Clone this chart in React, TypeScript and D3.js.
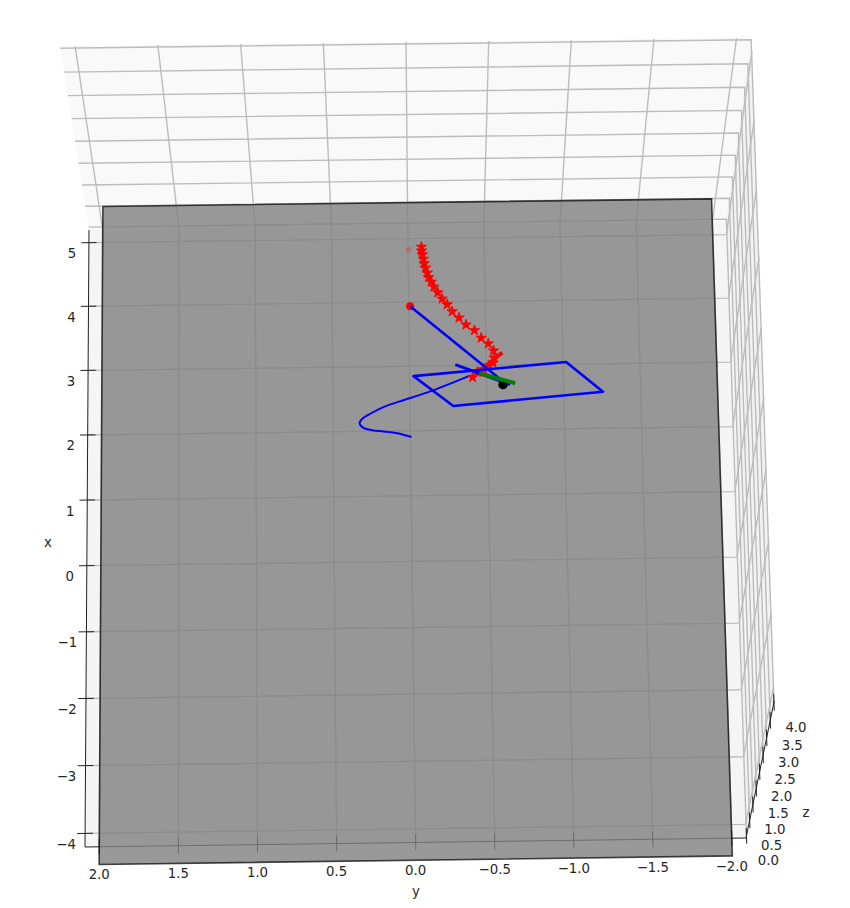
import React, { useEffect, useRef } from "react";
import * as d3 from "d3";

// axis limits and ticks
const xLimits = [-4.2, 5.2];
const yLimits = [-2.09, 2.09];
const zLimits = [-0.07, 4.04];
const xTicks = [-4, -3, -2, -1, 0, 1, 2, 3, 4, 5];
const yTicks = [2, 1.5, 1, 0.5, 0, -0.5, -1, -1.5, -2];
const zTicks = [0, 0.5, 1, 1.5, 2, 2.5, 3, 3.5, 4];

// grey plate lying on the floor
const plateX = [-4.46, 5.57];
const plateY = [-2, 2];

// series as [x, y], all drawn at one height
const seriesZ = -0.045;
const starPath = [
  [4.85, -0.088], [4.79, -0.089], [4.73, -0.094], [4.66, -0.1], [4.59, -0.105],
  [4.52, -0.113], [4.44, -0.124], [4.37, -0.133], [4.3, -0.149], [4.22, -0.166],
  [4.13, -0.191], [4.03, -0.219], [3.94, -0.251], [3.83, -0.283], [3.73, -0.327],
  [3.62, -0.372], [3.53, -0.426], [3.41, -0.469], [3.32, -0.515], [3.21, -0.548],
  [3.1, -0.552], [3.02, -0.543], [2.98, -0.519], [2.92, -0.481], [2.88, -0.44],
  [2.8, -0.409],
];
const square = [
  [2.83, -0.025], [3.02, -1.019], [2.55, -1.254], [2.36, -0.281],
];
const trajectory = [
  [1.89, -0.007], [1.95, 0.085], [1.98, 0.171], [2.0, 0.246], [2.04, 0.303],
  [2.11, 0.328], [2.18, 0.31], [2.26, 0.255], [2.36, 0.169], [2.445, 0.06],
  [2.61, -0.156], [2.83, -0.396],
];
const longArm = [[3.92, -0.009], [2.73, -0.607]];
const shortArm = [[3.0, -0.298], [2.68, -0.651]];
const greenArm = [[2.86, -0.452], [2.7, -0.685]];
const redArm = [[3.18, -0.605], [2.91, -0.46]];
const startPoint = [3.92, -0.009];
const ghostPoint = [4.81, -0.004];
const blackPoint = [2.68, -0.606];

// where the box lands on screen (floor corners, z vanishing point)
const floorNearLeft = [85, 847];
const floorNearRight = [746, 838];
const floorFarRight = [726, 222];
const floorFarLeft = [89, 230];
const vanish = [427, 2387];
const zShrinkAtTop = -0.0785;

function makeProjection() {
  const s = d3.scaleLinear().domain([yLimits[1], yLimits[0]]).range([0, 1]);
  const t = d3.scaleLinear().domain(xLimits).range([0, 1]);
  const [x0, y0] = floorNearLeft;
  const [x1, y1] = floorNearRight;
  const [x2, y2] = floorFarRight;
  const [x3, y3] = floorFarLeft;
  const dx1 = x1 - x2;
  const dx2 = x3 - x2;
  const sx = x0 - x1 + x2 - x3;
  const dy1 = y1 - y2;
  const dy2 = y3 - y2;
  const sy = y0 - y1 + y2 - y3;
  const det = dx1 * dy2 - dx2 * dy1;
  const g = (sx * dy2 - dx2 * sy) / det;
  const h = (dx1 * sy - sx * dy1) / det;
  const a = x1 - x0 + g * x1;
  const b = x3 - x0 + h * x3;
  const d = y1 - y0 + g * y1;
  const e = y3 - y0 + h * y3;
  const lambda = (zShrinkAtTop * (h + 1)) / (zLimits[1] - zLimits[0]);

  return (x: number, y: number, z = zLimits[0]): [number, number] => {
    const ss = s(y);
    const tt = t(x);
    const dz = (z - zLimits[0]) * lambda;
    const w = g * ss + h * tt + 1 + dz;
    return [
      (a * ss + b * tt + x0 + dz * vanish[0]) / w,
      (d * ss + e * tt + y0 + dz * vanish[1]) / w,
    ];
  };
}

function App() {
  const svgRef = useRef<SVGSVGElement>(null);

  useEffect(() => {
    const svg = d3.select(svgRef.current);
    svg.selectAll("*").remove();

    const project = makeProjection();
    const path = d3.line();
    const closed = d3.line().curve(d3.curveLinearClosed);
    const smooth = d3.line().curve(d3.curveCatmullRom.alpha(0.5));
    const seriesPts = (pts: number[][]) => pts.map((p) => project(p[0], p[1], seriesZ));

    const [xMin, xMax] = xLimits;
    const [yMin, yMax] = yLimits;
    const zMax = zLimits[1];

    // panes
    const panes = [
      { fill: "#f5f5f5", pts: [project(xMin, yMax), project(xMin, yMin), project(xMax, yMin), project(xMax, yMax)] },
      { fill: "#f9f9f9", pts: [project(xMax, yMax), project(xMax, yMin), project(xMax, yMin, zMax), project(xMax, yMax, zMax)] },
      { fill: "#f2f2f2", pts: [project(xMin, yMin), project(xMax, yMin), project(xMax, yMin, zMax), project(xMin, yMin, zMax)] },
    ];
    svg
      .selectAll(".pane")
      .data(panes)
      .join("path")
      .attr("class", "pane")
      .attr("fill", (d) => d.fill)
      .attr("d", (d) => closed(d.pts));

    // grid
    const gridLines = [
      ...xTicks.map((x) => [project(x, yMax), project(x, yMin), project(x, yMin, zMax)]),
      ...yTicks.map((y) => [project(xMin, y), project(xMax, y), project(xMax, y, zMax)]),
      ...zTicks.map((z) => [project(xMin, yMin, z), project(xMax, yMin, z), project(xMax, yMax, z)]),
    ];
    svg
      .selectAll(".grid")
      .data(gridLines)
      .join("path")
      .attr("class", "grid")
      .attr("fill", "none")
      .attr("stroke", "#bcbcbc")
      .attr("stroke-width", 1.4)
      .attr("d", (d) => path(d));

    // axis lines and tick marks
    const axisLines = [
      [project(xMax, yMax), project(xMin, yMax)],
      [project(xMin, yMax), project(xMin, yMin)],
      [project(xMin, yMin), project(xMin, yMin, zMax)],
      ...xTicks.map((x) => [project(x, yMax + 0.05), project(x, yMax - 0.05)]),
      ...yTicks.map((y) => [project(xMin + 0.115, y), project(xMin - 0.115, y)]),
      ...zTicks.map((z) => [project(xMin + 0.115, yMin, z), project(xMin - 0.115, yMin, z)]),
    ];
    svg
      .selectAll(".axis")
      .data(axisLines)
      .join("path")
      .attr("class", "axis")
      .attr("fill", "none")
      .attr("stroke", "#222")
      .attr("stroke-width", 1)
      .attr("d", (d) => path(d));

    // plate
    svg
      .append("path")
      .attr("fill", "#808080")
      .attr("fill-opacity", 0.8)
      .attr("stroke", "#000")
      .attr("stroke-opacity", 0.7)
      .attr("stroke-width", 1.6)
      .attr(
        "d",
        closed([
          project(plateX[0], plateY[1]),
          project(plateX[0], plateY[0]),
          project(plateX[1], plateY[0]),
          project(plateX[1], plateY[1]),
        ])
      );

    // series
    const stroke = (d: string, color: string, width: number) =>
      svg
        .append("path")
        .attr("fill", "none")
        .attr("stroke", color)
        .attr("stroke-width", width)
        .attr("stroke-linejoin", "round")
        .attr("d", d);

    const [gx, gy] = project(ghostPoint[0], ghostPoint[1], seriesZ);
    svg.append("circle").attr("cx", gx).attr("cy", gy).attr("r", 2.8).attr("fill", "#ff0000").attr("opacity", 0.25);
    const [sx, sy] = project(startPoint[0], startPoint[1], seriesZ);
    svg.append("circle").attr("cx", sx).attr("cy", sy).attr("r", 4).attr("fill", "#ff0000");

    stroke(smooth(seriesPts(trajectory)), "#0000ff", 2);

    const star = d3.symbol().type(d3.symbolStar).size(34);
    svg
      .selectAll(".star")
      .data(starPath)
      .join("path")
      .attr("class", "star")
      .attr("fill", "#ff0000")
      .attr("stroke", "#ff0000")
      .attr("stroke-width", 0.9)
      .attr("stroke-linejoin", "round")
      .attr("d", star)
      .attr("transform", (d) => {
        const [u, v] = project(d[0], d[1], seriesZ);
        return `translate(${u},${v})`;
      });
    stroke(path(seriesPts(redArm)), "#ff0000", 3.8);

    stroke(closed(seriesPts(square)), "#0000ff", 2.6);
    stroke(path(seriesPts(longArm)), "#0000ff", 2.6);
    stroke(path(seriesPts(shortArm)), "#0000ff", 3);

    const [bx, by] = project(blackPoint[0], blackPoint[1], seriesZ);
    svg.append("circle").attr("cx", bx).attr("cy", by).attr("r", 4.7).attr("fill", "#000");
    stroke(path(seriesPts(greenArm)), "#008000", 4);

    // text
    const label = (txt: string, u: number, v: number) =>
      svg
        .append("text")
        .attr("x", u)
        .attr("y", v)
        .attr("text-anchor", "middle")
        .attr("dominant-baseline", "central")
        .attr("font-family", "DejaVu Sans")
        .attr("font-size", 13.3)
        .attr("fill", "#262626")
        .text(txt);

    const fmtX = d3.format("d");
    const fmtOne = d3.format(".1f");
    xTicks.forEach((x) => {
      const [u, v] = project(x, yMax);
      label(fmtX(x), u - (x < 0 ? 19 : 17), v + 11);
    });
    yTicks.forEach((y) => {
      const [u, v] = project(xMin, y);
      label(fmtOne(y), u, v + 28);
    });
    zTicks.forEach((z) => {
      const [u, v] = project(xMin, yMin, z);
      label(fmtOne(z), u + 22, v + 25);
    });
    label("x", 48, 542);
    label("y", 416, 891);
    label("z", 806, 812);
  }, []);

  return (
    <svg
      ref={svgRef}
      width={850}
      height={908}
      style={{ position: "absolute", left: 0, top: 0, background: "#fff" }}
    />
  );
}

export default App;
